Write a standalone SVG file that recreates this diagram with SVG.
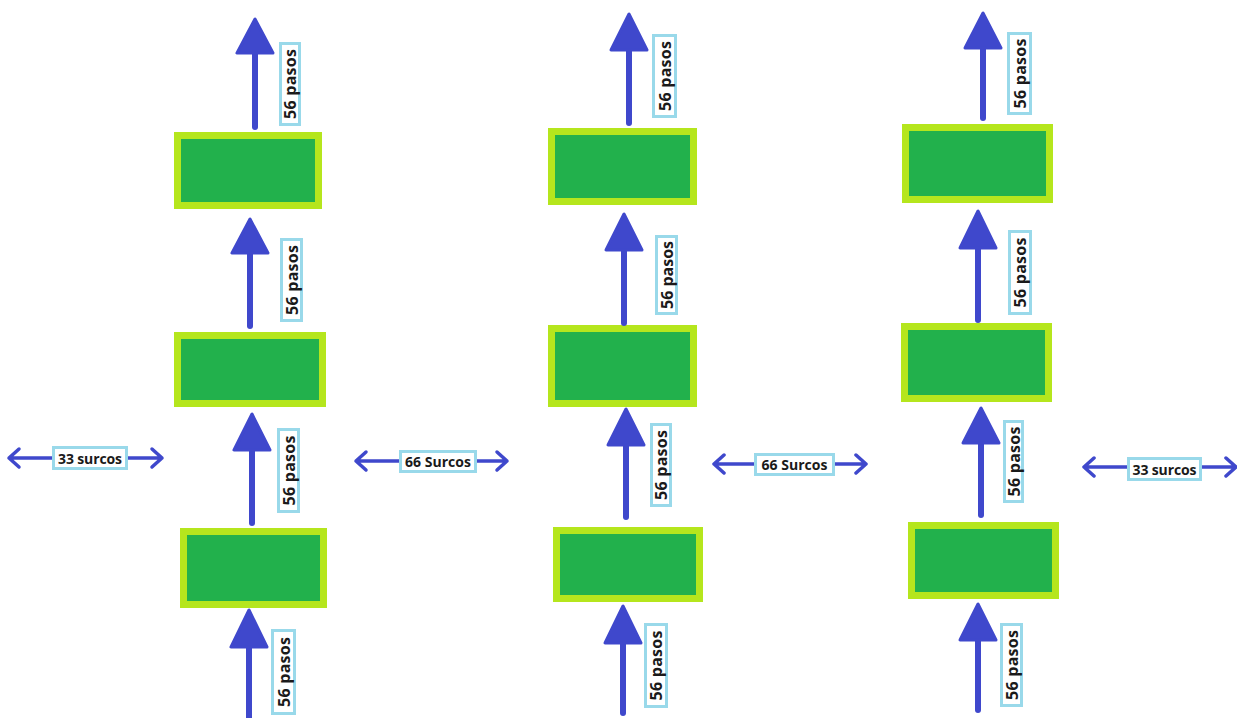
<svg xmlns="http://www.w3.org/2000/svg" width="1237" height="718" viewBox="0 0 1237 718">
  <defs>
    <style>
      .box { fill: #22b14c; stroke: #b5e61d; stroke-width: 7; }
      .shaft { stroke: #3f48cc; stroke-width: 6; stroke-linecap: round; fill: none; }
      .head { fill: #3f48cc; stroke: #3f48cc; stroke-width: 3; stroke-linejoin: round; }
      .hline { stroke: #3f48cc; stroke-width: 3.5; fill: none; stroke-linecap: round; stroke-linejoin: round; }
      .tag { fill: #ffffff; stroke: #99d9ea; stroke-width: 3; }
      .vt { font-family: "Open Sans", "DejaVu Sans", sans-serif; font-weight: bold; font-size: 16px; fill: #1a1a1a; text-anchor: middle; dominant-baseline: central; }
      .ht { font-family: "Open Sans", "DejaVu Sans", sans-serif; font-weight: bold; font-size: 14px; fill: #1a1a1a; text-anchor: middle; dominant-baseline: central; }
    </style>
  </defs>

  <rect width="1237" height="718" fill="#ffffff"/>

  <!-- plots (green beds) -->
  <g id="bed-c1-1"><rect class="box" x="177.5" y="135.5" width="141" height="70"/></g>
  <g id="bed-c1-2"><rect class="box" x="177.5" y="335.5" width="145" height="68"/></g>
  <g id="bed-c1-3"><rect class="box" x="183.5" y="531.5" width="140" height="73"/></g>
  <g id="bed-c2-1"><rect class="box" x="551.5" y="131.5" width="142" height="70"/></g>
  <g id="bed-c2-2"><rect class="box" x="551.5" y="328.5" width="142" height="75"/></g>
  <g id="bed-c2-3"><rect class="box" x="556.5" y="530.5" width="143" height="68"/></g>
  <g id="bed-c3-1"><rect class="box" x="905.5" y="127.5" width="144" height="72"/></g>
  <g id="bed-c3-2"><rect class="box" x="904.5" y="326.5" width="144" height="72"/></g>
  <g id="bed-c3-3"><rect class="box" x="911.5" y="525.5" width="144" height="70"/></g>

  <!-- connectors: vertical step arrows and horizontal furrow spans -->
  <g id="connectors">
    <!-- column 1 -->
    <line class="shaft" x1="255" y1="127" x2="255" y2="50"/>
    <polygon class="head" points="255,19 237,53 273,53"/>
    <line class="shaft" x1="250" y1="326" x2="250" y2="250"/>
    <polygon class="head" points="250,219 232,253 268,253"/>
    <line class="shaft" x1="252" y1="523" x2="252" y2="447"/>
    <polygon class="head" points="252,414 234,450 270,450"/>
    <line class="shaft" x1="249" y1="718" x2="249" y2="644"/>
    <polygon class="head" points="249,610 231,647 267,647"/>

    <!-- column 2 -->
    <line class="shaft" x1="629" y1="123" x2="629" y2="47"/>
    <polygon class="head" points="629,14 611,50 647,50"/>
    <line class="shaft" x1="624" y1="323" x2="624" y2="247"/>
    <polygon class="head" points="624,214 606,250 642,250"/>
    <line class="shaft" x1="626" y1="517" x2="626" y2="442"/>
    <polygon class="head" points="626,409 608,445 644,445"/>
    <line class="shaft" x1="623" y1="713" x2="623" y2="640"/>
    <polygon class="head" points="623,606 605,643 641,643"/>

    <!-- column 3 -->
    <line class="shaft" x1="983" y1="118" x2="983" y2="45"/>
    <polygon class="head" points="983,13 965,48 1001,48"/>
    <line class="shaft" x1="978" y1="320" x2="978" y2="245"/>
    <polygon class="head" points="978,211 960,248 996,248"/>
    <line class="shaft" x1="981" y1="515" x2="981" y2="440"/>
    <polygon class="head" points="981,408 963,443 999,443"/>
    <line class="shaft" x1="978" y1="710" x2="978" y2="637"/>
    <polygon class="head" points="978,604 960,640 996,640"/>

    <!-- horizontal spans -->
    <path class="hline" d="M9,458 H162 M19,449 L9,458 L19,467 M152,449 L162,458 L152,467"/>
    <path class="hline" d="M356,461 H507 M366,452 L356,461 L366,470 M497,452 L507,461 L497,470"/>
    <path class="hline" d="M714,464 H866 M724,455 L714,464 L724,473 M856,455 L866,464 L856,473"/>
    <path class="hline" d="M1084,467 H1236 M1094,458 L1084,467 L1094,476 M1226,458 L1236,467 L1226,476"/>
  </g>

  <!-- labels on the step arrows -->
  <g id="labels-steps">
    <rect class="tag" x="280.5" y="43.5" width="19" height="81"/>
    <text class="vt" x="290" y="84" transform="rotate(-90 290 84)" textLength="70">56 pasos</text>
    <rect class="tag" x="281.5" y="239.5" width="20" height="81"/>
    <text class="vt" x="291.5" y="280" transform="rotate(-90 291.5 280)" textLength="70">56 pasos</text>
    <rect class="tag" x="278.5" y="429.5" width="20" height="82"/>
    <text class="vt" x="288.5" y="470.5" transform="rotate(-90 288.5 470.5)" textLength="70">56 pasos</text>
    <rect class="tag" x="272.5" y="630.5" width="22" height="83"/>
    <text class="vt" x="283.5" y="672" transform="rotate(-90 283.5 672)" textLength="70">56 pasos</text>

    <rect class="tag" x="653.5" y="35.5" width="22" height="81"/>
    <text class="vt" x="664.5" y="76" transform="rotate(-90 664.5 76)" textLength="70">56 pasos</text>
    <rect class="tag" x="656.5" y="236.5" width="20" height="77"/>
    <text class="vt" x="666.5" y="275" transform="rotate(-90 666.5 275)" textLength="68">56 pasos</text>
    <rect class="tag" x="651.5" y="424.5" width="19" height="81"/>
    <text class="vt" x="661" y="465" transform="rotate(-90 661 465)" textLength="70">56 pasos</text>
    <rect class="tag" x="645.5" y="624.5" width="21" height="82"/>
    <text class="vt" x="656" y="665.5" transform="rotate(-90 656 665.5)" textLength="70">56 pasos</text>

    <rect class="tag" x="1008.5" y="33.5" width="22" height="80"/>
    <text class="vt" x="1019.5" y="73.5" transform="rotate(-90 1019.5 73.5)" textLength="70">56 pasos</text>
    <rect class="tag" x="1009.5" y="231.5" width="21" height="82"/>
    <text class="vt" x="1020" y="272.5" transform="rotate(-90 1020 272.5)" textLength="70">56 pasos</text>
    <rect class="tag" x="1004.5" y="421.5" width="18" height="80"/>
    <text class="vt" x="1013.5" y="461.5" transform="rotate(-90 1013.5 461.5)" textLength="70">56 pasos</text>
    <rect class="tag" x="1001.5" y="624.5" width="20" height="81"/>
    <text class="vt" x="1011.5" y="665" transform="rotate(-90 1011.5 665)" textLength="70">56 pasos</text>
  </g>

  <!-- labels on the furrow spans -->
  <g id="labels-furrows">
    <rect class="tag" x="53.5" y="447.5" width="73" height="21"/>
    <text class="ht" x="90" y="458" textLength="64">33 surcos</text>
    <rect class="tag" x="400.5" y="451.5" width="75" height="20"/>
    <text class="ht" x="438" y="461.5" textLength="66">66 Surcos</text>
    <rect class="tag" x="755.5" y="454.5" width="78" height="20"/>
    <text class="ht" x="794.5" y="464.5" textLength="66">66 Surcos</text>
    <rect class="tag" x="1128.5" y="458.5" width="72" height="21"/>
    <text class="ht" x="1164.5" y="469" textLength="64">33 surcos</text>
  </g>
</svg>
